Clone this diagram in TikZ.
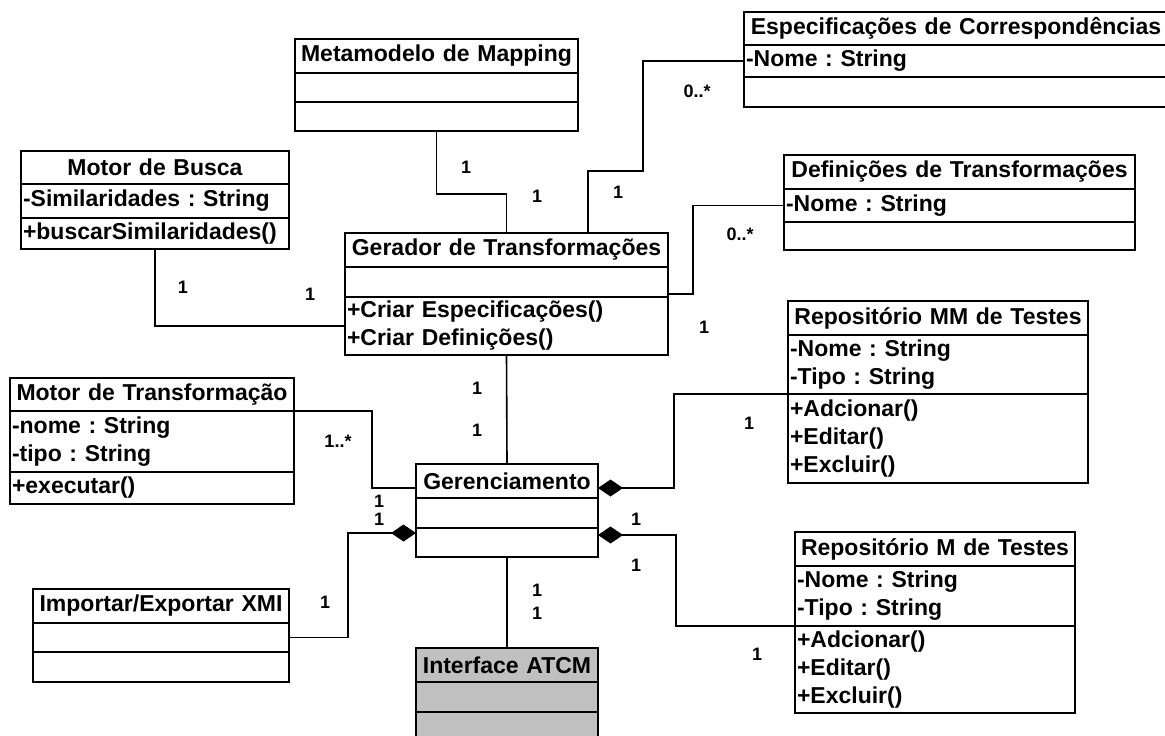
\documentclass[tikz,border=0pt]{standalone}
\usepackage{fontspec}
\setmainfont{Liberation Sans}
\frenchspacing
\usetikzlibrary{arrows.meta,positioning,calc}
\definecolor{ifacegray}{RGB}{192,192,192}

\tikzset{
  cls/.style={draw, line width=0.8pt, outer sep=0pt, inner xsep=1pt, inner ysep=0pt,
    fill=white, font=\fontsize{11.5}{14}\selectfont\bfseries},
  ctitle/.style={cls, align=center, minimum height=17pt, anchor=north west},
  ccomp/.style={cls, align=left},
  mult/.style={inner sep=0pt, font=\fontsize{9}{10}\selectfont\bfseries},
  assoc/.style={line width=0.8pt},
  compos/.style={assoc, {Diamond[length=12.5pt,width=8.5pt]}-}
}

\begin{document}
\begin{tikzpicture}[x=0.5pt, y=-0.5pt]
  \useasboundingbox (0,0) rectangle (1165,735);

  % classes
  \node[ctitle, text width=139.5pt] (metatitle) at (295,39) {Metamodelo de Mapping};
  \node[ccomp, text width=139.5pt, minimum height=14.5pt, below=0pt of metatitle] (metaattr) {};
  \node[ccomp, text width=139.5pt, minimum height=14.5pt, below=0pt of metaattr] (metaops) {};

  \node[ctitle, text width=132pt, minimum height=16.5pt] (buscatitle) at (21,151) {Motor de Busca};
  \node[ccomp, text width=132pt, minimum height=17pt, below=0pt of buscatitle] (buscaattr) {-Similaridades : String};
  \node[ccomp, text width=132pt, minimum height=15.5pt, below=0pt of buscaattr] (buscaops) {+buscarSimilaridades()};

  \node[ctitle, text width=159.5pt] (gertitle) at (345,233) {Gerador de Transformações};
  \node[ccomp, text width=159.5pt, minimum height=15pt, below=0pt of gertitle] (gerattr) {};
  \node[ccomp, text width=159.5pt, minimum height=29pt, below=0pt of gerattr] (gerops) {+Criar Especificações()\\+Criar Definições()};

  \node[ctitle, text width=210pt, minimum height=16.5pt] (espectitle) at (744,12) {Especificações de Correspondências};
  \node[ccomp, text width=210pt, minimum height=16pt, below=0pt of espectitle] (especattr) {-Nome : String};
  \node[ccomp, text width=210pt, minimum height=15pt, below=0pt of especattr] (especops) {};

  \node[ctitle, text width=173.5pt] (defintitle) at (784,155) {Definições de Transformações};
  \node[ccomp, text width=173.5pt, minimum height=16.5pt, below=0pt of defintitle] (definattr) {-Nome : String};
  \node[ccomp, text width=173.5pt, minimum height=14pt, below=0pt of definattr] (definops) {};

  \node[ctitle, text width=148pt] (repmmtitle) at (788,301) {Repositório MM de Testes};
  \node[ccomp, text width=148pt, minimum height=29.5pt, below=0pt of repmmtitle] (repmmattr) {-Nome : String\\-Tipo : String};
  \node[ccomp, text width=148pt, minimum height=44.5pt, below=0pt of repmmattr] (repmmops) {+Adcionar()\\+Editar()\\+Excluir()};

  \node[ctitle, text width=138pt] (repmtitle) at (795,532) {Repositório M de Testes};
  \node[ccomp, text width=138pt, minimum height=30pt, below=0pt of repmtitle] (repmattr) {-Nome : String\\-Tipo : String};
  \node[ccomp, text width=138pt, minimum height=43.5pt, below=0pt of repmattr] (repmops) {+Adcionar()\\+Editar()\\+Excluir()};

  \node[ctitle, text width=140pt, minimum height=16.5pt] (mtranstitle) at (10,378) {Motor de Transformação};
  \node[ccomp, text width=140pt, minimum height=30.5pt, below=0pt of mtranstitle] (mtransattr) {-nome : String\\-tipo : String};
  \node[ccomp, text width=140pt, minimum height=16pt, below=0pt of mtransattr] (mtransops) {+executar()};

  \node[ctitle, text width=89pt] (gerenctitle) at (416,464) {Gerenciamento};
  \node[ccomp, text width=89pt, minimum height=15pt, below=0pt of gerenctitle] (gerencattr) {};
  \node[ccomp, text width=89pt, minimum height=14.5pt, below=0pt of gerencattr] (gerencops) {};

  \node[ctitle, text width=126pt] (xmititle) at (33,589) {Importar/Exportar XMI};
  \node[ccomp, text width=126pt, minimum height=14.5pt, below=0pt of xmititle] (xmiattr) {};
  \node[ccomp, text width=126pt, minimum height=15pt, below=0pt of xmiattr] (xmiops) {};

  \node[ctitle, text width=89pt, fill=ifacegray] (ifacetitle) at (416,648) {Interface ATCM};
  \node[ccomp, text width=89pt, minimum height=15pt, fill=ifacegray, below=0pt of ifacetitle] (ifaceattr) {};
  \node[ccomp, text width=89pt, minimum height=15pt, fill=ifacegray, below=0pt of ifaceattr] (ifaceops) {};

  % associations
  \draw[assoc] (metaops.south) -- ++(0,63) -| (gertitle.north);
  \draw[assoc] ($(gertitle.north east)+(-80,0)$) -- ++(0,-62) -- ++(55,0) |- (especattr.west);
  \draw[assoc] ($(gerops.north east)+(0,-3)$) -- ++(25,0) |- (definattr.west);
  \draw[assoc] (buscaops.south) |- (gerops.west);
  \draw[assoc] (gerops.south) -- (gerenctitle.north);
  \draw[assoc] (gerencops.south) -- (ifacetitle.north);
  \draw[assoc] (mtransattr.north east) -- ++(78,0) |- ($(gerenctitle.west)+(0,7)$);
  \draw[compos] ($(gerencattr.south west)+(0,5)$) -- ++(-68,0) |- (xmiattr.east);
  \draw[compos] ($(gerenctitle.east)+(0,7)$) -- ++(76,0) |- (repmmops.north west);
  \draw[compos] ($(gerencattr.south east)+(0,7)$) -- ++(78,0) |- (repmops.north west);

  % multiplicities
  \node[mult] (m1) at (466,167) {1};
  \node[mult] (m2) at (537,196) {1};
  \node[mult] (m3) at (697,91) {0..*};
  \node[mult] (m4) at (618,192) {1};
  \node[mult] (m5) at (740,234) {0..*};
  \node[mult] (m6) at (704,327) {1};
  \node[mult] (m7) at (183,287) {1};
  \node[mult] (m8) at (310,294) {1};
  \node[mult] (m9) at (477,388) {1};
  \node[mult] (m10) at (477,430) {1};
  \node[mult] (m11) at (338,441) {1..*};
  \node[mult] (m12) at (379,501) {1};
  \node[mult] (m13) at (379,519) {1};
  \node[mult] (m14) at (325,602) {1};
  \node[mult] (m15) at (749,423) {1};
  \node[mult] (m16) at (636,519) {1};
  \node[mult] (m17) at (636,565) {1};
  \node[mult] (m18) at (757,654) {1};
  \node[mult] (m19) at (537,590) {1};
  \node[mult] (m20) at (537,613) {1};
\end{tikzpicture}
\end{document}
